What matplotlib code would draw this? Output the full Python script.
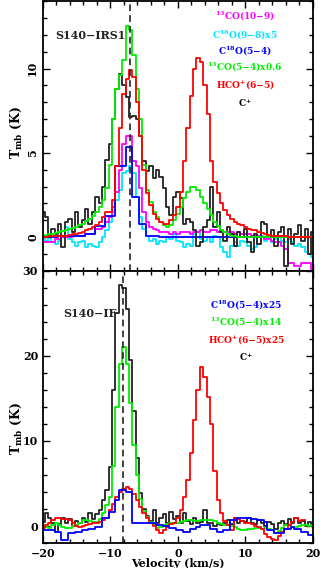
import numpy as np
import matplotlib
matplotlib.use('Agg')
import matplotlib.pyplot as plt
from matplotlib.ticker import MultipleLocator

plt.rcParams['font.family'] = ['DejaVu Serif']
plt.rcParams['font.weight'] = 'bold'
plt.rcParams['mathtext.fontset'] = 'dejavuserif'
plt.rcParams['mathtext.default'] = 'bf'

# velocity channels (km/s), 0.5 km/s spacing
vel = np.arange(-20, 20.01, 0.5)

#==================== S140-IRS1 ====================
irs1_cplus = [1.5, 1.2, 0.0, 0.5, 0.2, 0.8, -0.6, 0.9, 1.1, 0.3,
              1.5, 0.6, 1.0, 1.7, 0.8, 1.5, 2.4, 2.0, 3.0, 4.6,
              5.5, 7.0, 8.8, 9.7, 9.0, 8.3, 7.1, 7.2, 7.0, 6.0,
              4.5, 3.9, 4.2, 3.5, 4.0, 3.6, 2.9, 1.8, 1.3, 2.4,
              2.7, 2.3, 0.8, 1.1, 0.9, 0.4, -0.5, -0.3, 0.6, 1.0,
              3.0, 0.6, 1.5, 0.3, -0.2, 0.6, 0.2, -0.5, 0.3, 0.0,
              0.5, -0.3, -0.9, 0.2, -0.4, 0.9, 0.8, 0.0, 0.4, -0.5,
              0.3, 0.6, -1.7, 0.5, -0.4, 0.2, 0.7, -0.2, 0.5, -1.0, 0.3]
irs1_hco = [0.0, 0.0, 0.05, 0.05, 0.05, 0.1, 0.1, 0.1, 0.15, 0.2,
            0.2, 0.25, 0.3, 0.4, 0.5, 0.6, 0.7, 0.9, 1.2, 1.5,
            1.5, 2.2, 4.2, 6.5, 8.5, 9.4, 9.9, 9.5, 8.0, 6.0,
            4.0, 2.6, 1.9, 1.4, 1.1, 0.9, 0.8, 0.8, 1.0, 1.3,
            1.8, 2.7, 4.5, 6.5, 8.4, 10.0, 10.6, 10.4, 9.0, 7.3,
            4.5, 3.3, 2.6, 2.0, 1.6, 1.3, 1.1, 0.9, 0.8, 0.7,
            0.6, 0.5, 0.45, 0.4, 0.3, 0.25, 0.2, 0.15, 0.1, 0.1,
            0.05, 0.05, 0.05, 0.0, 0.0, 0.0, 0.0, 0.0, 0.0, 0.0, 0.0]
irs1_13co54 = [0.1, 0.15, 0.2, 0.2, 0.25, 0.3, 0.35, 0.4, 0.5, 0.55,
               0.6, 0.7, 0.8, 0.95, 1.1, 1.25, 1.5, 1.8, 2.2, 2.9,
               4.3, 7.0, 8.8, 9.6, 10.5, 12.5, 12.3, 10.8, 8.8, 7.0,
               4.3, 2.8, 2.1, 1.5, 1.2, 0.9, 0.7, 0.6, 0.7, 1.0,
               1.4, 1.8, 2.3, 2.7, 2.95, 3.0, 2.8, 2.4, 2.0, 1.7,
               1.3, 0.9, 0.65, 0.45, 0.3, 0.2, 0.1, 0.05, 0.0, 0.0,
               0.0, 0.0, 0.0, 0.0, 0.0, 0.0, 0.0, 0.0, 0.0, 0.0,
               0.0, 0.0, 0.0, 0.0, 0.0, 0.0, 0.0, 0.0, 0.0, 0.0, 0.0]
irs1_c18o54 = [0.0, 0.0, 0.0, 0.0, 0.0, 0.05, 0.05, 0.05, 0.05, 0.1,
               0.1, 0.1, 0.1, 0.2, 0.2, 0.2, 0.65, 0.65, 0.65, 1.25,
               1.25, 1.25, 4.2, 4.2, 4.2, 5.35, 5.35, 2.4, 2.4, 0.8,
               0.8, 0.1, 0.1, 0.05, 0.05, 0.0, 0.0, 0.0, 0.0, 0.0,
               0.0, 0.0, 0.0, 0.0, 0.0, 0.0, 0.0, 0.0, 0.0, 0.0,
               0.0, 0.0, 0.0, 0.0, 0.0, 0.0, 0.0, 0.0, 0.0, 0.0,
               0.0, 0.0, 0.0, 0.0, 0.0, 0.0, 0.0, 0.0, 0.0, 0.0,
               0.0, 0.0, 0.0, 0.0, 0.0, 0.0, 0.0, 0.0, 0.0, 0.0, 0.0]
irs1_c18o98 = [0.0, -0.2, 0.1, -0.3, -0.4, -0.2, 0.0, 0.6, -0.1, -0.3,
               -0.5, -0.3, -0.2, -0.6, -0.4, -0.5, -0.6, -0.3, 0.0, 0.4,
               0.9, 1.5, 2.2, 2.8, 3.8, 3.9, 4.2, 3.8, 2.4, 1.2,
               0.5, 0.1, -0.2, -0.1, -0.4, -0.2, -0.3, 0.0, -0.1, 0.2,
               -0.2, -0.3, -0.6, -0.4, -0.5, 0.2, 0.3, -0.1, -0.2, 0.0,
               -0.3, 0.1, 0.0, -0.6, -0.9, -1.2, -0.5, -0.3, -0.5, -0.2,
               -0.3, -0.5, -0.7, -0.6, 0.0, 0.1, -0.2, 0.0, -0.3, -0.1,
               0.0, -0.2, -0.3, -0.1, -0.3, -0.5, -0.4, -0.6, -0.9, -1.0, -1.2]
irs1_13co109 = [-0.3, -0.3, -0.3, -0.3, -0.1, -0.1, 0.0, 0.0, 0.0, 0.1,
                0.1, 0.1, 0.1, 0.2, 0.2, 0.2, 0.5, 0.5, 0.6, 0.9,
                1.2, 1.8, 2.7, 4.0, 5.5, 6.0, 6.0, 4.5, 4.2, 2.9,
                1.5, 0.9, 0.6, 0.5, 0.4, 0.3, 0.3, 0.3, 0.2, 0.3,
                0.2, 0.3, 0.3, 0.3, 0.2, 0.3, 0.3, 0.4, 0.3, 0.3,
                0.4, 0.4, 0.3, 0.4, 0.3, 0.3, 0.3, 0.2, 0.3, 0.2,
                0.2, 0.2, 0.1, 0.1, 0.1, 0.0, -0.1, -0.1, -0.2, -0.3,
                -0.3, -0.5, -0.7, -1.5, -1.5, -1.7, -1.7, -1.5, -1.5, -1.5, -2.5]

#==================== S140-IF ====================
if_cplus = [0.5, 1.5, 0.9, 0.3, -0.7, 0.2, 1.0, 0.4, 0.8, 0.0,
            0.6, 0.3, 1.0, 0.5, 1.5, 0.8, 1.4, 1.9, 3.0, 4.2,
            6.9, 16.0, 25.0, 28.4, 28.0, 25.5, 19.5, 13.5, 8.0, 3.9,
            2.0, 1.2, 0.6, 1.9, 0.3, 1.0, 1.4, 0.4, 1.6, 0.8,
            1.2, 0.4, 1.5, 0.6, 0.2, 0.9, 0.3, 0.5, 1.9, 0.4,
            0.3, 0.0, 0.2, 0.1, 0.4, 0.7, 0.2, 0.9, 0.3, 0.6,
            0.5, 0.9, 0.3, 0.2, 0.7, 0.4, 0.0, 0.5, 0.2, -0.3,
            0.3, 0.6, 0.2, 0.8, 0.4, 0.9, 0.3, 0.6, 0.0, 0.5, 0.2]
if_hco = [-0.2, 0.1, 0.3, 0.7, 0.9, 0.9, 0.8, 0.8, 0.7, 0.3,
          0.0, -0.1, 0.0, 0.1, 0.2, 0.3, 0.4, 0.5, 0.7, 0.9,
          1.9, 2.6, 3.4, 4.0, 4.3, 4.6, 4.4, 3.8, 3.1, 2.2,
          1.5, 0.9, 0.4, 0.0, -0.5, -0.8, -0.5, -0.1, 0.2, 0.35,
          1.0, 1.9, 3.4, 5.4, 8.6, 12.5, 16.0, 18.7, 17.5, 15.2,
          12.0, 6.5, 3.1, 1.5, 0.6, 0.1, -0.5, 0.9, 0.8, 0.6,
          0.35, 0.3, 0.2, 0.0, -0.1, -0.4, -0.9, -1.3, -1.5, -1.6,
          -1.2, -0.7, -0.3, 0.1, 0.5, 0.9, 0.6, 0.7, np.nan, np.nan, np.nan]
if_13co54 = [0.1, -0.1, -0.2, 0.1, 0.3, 0.1, -0.1, -0.2, -0.2, 0.0,
             0.1, 0.4, 0.7, 0.7, 0.6, 0.5, 0.5, 0.8, 1.5, 2.5,
             3.4, 7.0, 14.0, 19.0, 21.0, 19.0, 14.5, 9.5, 6.0, 3.2,
             1.8, 1.1, 0.5, 0.1, -0.2, -0.1, 0.1, 0.2, 0.3, 0.35,
             0.4, 0.5, 0.6, 0.7, 0.7, 0.6, 0.6, 0.7, 0.75, 0.7,
             0.7, 0.6, 0.4, 0.2, 0.1, 0.1, 0.0, -0.1, -0.3, -0.5,
             -0.5, -0.4, -0.3, -0.2, -0.2, -0.3, -0.2, -0.3, -0.5, -0.8,
             -0.6, -0.2, 0.1, 0.1, -0.1, -0.1, 0.0, 0.1, 0.1, 0.0, 0.1]
if_c18o54 = [-0.5, -0.5, -0.5, -0.5, -0.7, -0.7, -1.6, -1.6, -0.8, -0.8,
             -0.7, -0.7, -0.5, -0.5, -0.3, -0.3, -0.1, -0.1, 0.9, 0.9,
             1.6, 1.6, 3.1, 4.2, 4.2, 4.0, 4.0, 0.35, 0.35, 0.35,
             0.35, 0.35, 0.3, 0.3, 0.1, 0.1, 0.0, 0.0, -0.2, -0.2,
             -0.5, -0.5, -0.7, -0.7, -0.3, -0.3, -0.1, 0.1, 0.1, 0.1,
             -0.3, -0.3, -0.7, -0.7, -0.5, -0.5, 0.7, 0.7, 0.9, 0.9,
             0.9, 0.9, 0.8, 0.8, 0.7, 0.7, 0.5, -0.5, -0.5, -0.8,
             -0.8, -0.8, -0.3, -0.3, -0.1, -0.3, -0.3, -0.7, -0.7, -1.0, -1.0]

vlsr_irs1 = -7.1
vlsr_if = -8.1

irs1_labels = [r'$^{13}$CO(10$-$9)', r'C$^{18}$O(9$-$8)x5', r'C$^{18}$O(5$-$4)',
               r'$^{13}$CO(5$-$4)x0.6', r'HCO$^{+}$(6$-$5)', r'C$^{+}$']
irs1_colors = ['#ff00ff', '#00e5ff', '#0000ff', '#00ee00', '#ff0000', 'black']
if_labels = [r'C$^{18}$O(5$-$4)x25', r'$^{13}$CO(5$-$4)x14', r'HCO$^{+}$(6$-$5)x25', r'C$^{+}$']
if_colors = ['#0000ff', '#00ee00', '#ff0000', 'black']

fig = plt.figure(figsize=(3.2, 5.68), dpi=100)
ax1 = fig.add_axes([0.134, 0.523, 0.844, 0.475])
ax2 = fig.add_axes([0.134, 0.044, 0.844, 0.479])

lw = 1.3
ax1.plot(vel, irs1_c18o98, color='#00e5ff', lw=lw, drawstyle='steps-mid')
ax1.plot(vel, irs1_13co109, color='#ff00ff', lw=lw, drawstyle='steps-mid')
ax1.plot(vel, irs1_c18o54, color='#0000ff', lw=lw, drawstyle='steps-mid')
ax1.plot(vel, irs1_cplus, color='#222222', lw=lw, drawstyle='steps-mid')
ax1.plot(vel, irs1_13co54, color='#00ee00', lw=lw, drawstyle='steps-mid')
ax1.plot(vel, irs1_hco, color='#ff0000', lw=lw, drawstyle='steps-mid')
ax1.axvline(vlsr_irs1, color='#222222', ls=(0, (4, 2.5)), lw=1.2)

ax2.plot(vel, if_cplus, color='#222222', lw=lw, drawstyle='steps-mid')
ax2.plot(vel, if_13co54, color='#00ee00', lw=lw, drawstyle='steps-mid')
ax2.plot(vel, if_hco, color='#ff0000', lw=lw, drawstyle='steps-mid')
ax2.plot(vel, if_c18o54, color='#0000ff', lw=lw, drawstyle='steps-mid')
ax2.axvline(vlsr_if, color='#222222', ls=(0, (4, 2.5)), lw=1.2)

ax1.set_xlim(-20, 20)
ax1.set_ylim(-2, 14)
ax2.set_xlim(-20, 20)
ax2.set_ylim(-2, 30)

for ax in (ax1, ax2):
    ax.xaxis.set_major_locator(MultipleLocator(10))
    ax.xaxis.set_minor_locator(MultipleLocator(2))
    ax.tick_params(which='both', direction='in', top=True, right=True, labelsize=8, width=1)
    ax.tick_params(which='major', length=5)
    ax.tick_params(which='minor', length=3)
    for s in ax.spines.values():
        s.set_linewidth(1.3)

ax1.yaxis.set_major_locator(MultipleLocator(5))
ax1.yaxis.set_minor_locator(MultipleLocator(1))
ax1.set_yticks([0, 5, 10])
ax1.tick_params(axis='x', labelbottom=False)
for t in ax1.get_yticklabels():
    t.set_rotation(90)
    t.set_va('center')
ax2.yaxis.set_major_locator(MultipleLocator(10))
ax2.yaxis.set_minor_locator(MultipleLocator(2))
ax2.set_xticks([-20, -10, 0, 10, 20])
ax2.set_xticklabels(['\u221220', '\u221210', '0', '10', '20'])

ax1.text(0.044, 0.86, 'S140\u2212IRS1', transform=ax1.transAxes, fontsize=8, color='#222222')
ax2.text(0.074, 0.83, 'S140\u2212IF', transform=ax2.transAxes, fontsize=8, color='#222222')

ys = [16, 35, 51, 67, 85, 103]
for lab, col, y in zip(irs1_labels, irs1_colors, ys):
    fig.text(245 / 320, 1 - y / 568, lab, color=col, fontsize=6.5, ha='center', va='center')
ys = [305, 322, 340, 357]
for lab, col, y in zip(if_labels, if_colors, ys):
    fig.text(246 / 320, 1 - y / 568, lab, color=col, fontsize=6.5, ha='center', va='center')

fig.text(16 / 320, 1 - 132 / 568, r'T$_{\rm mb}$ (K)', rotation=90, fontsize=9, ha='center', va='center')
fig.text(16 / 320, 1 - 428 / 568, r'T$_{\rm mb}$ (K)', rotation=90, fontsize=9, ha='center', va='center')
fig.text(178 / 320, 1 - 558 / 568, 'Velocity (km/s)', fontsize=8, ha='center', va='top')

fig.savefig('out.png', dpi=100)
